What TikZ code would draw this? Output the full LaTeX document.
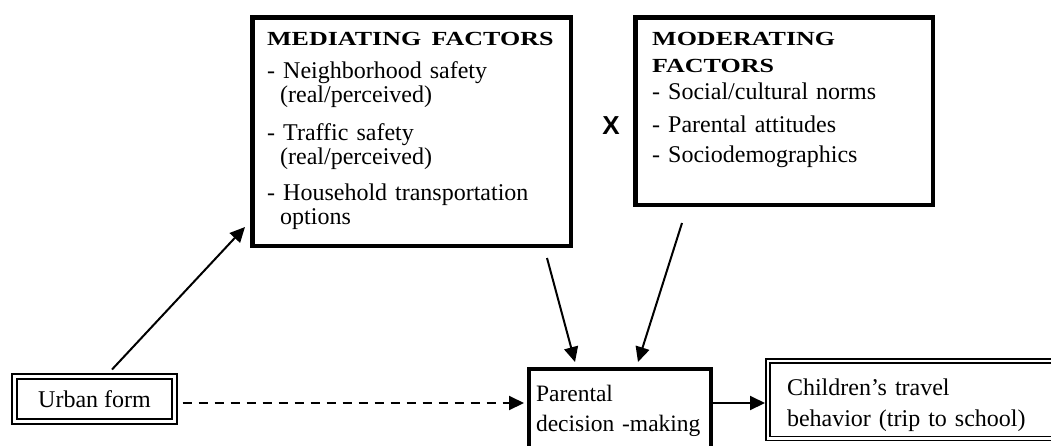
\documentclass[tikz,border=0pt]{standalone}
\usepackage{fontspec}
\setmainfont{Liberation Serif}
\newfontfamily\crossfont{Liberation Sans}
\usepackage{graphicx}
\usepackage{tikz}
\usetikzlibrary{arrows.meta,positioning,calc}
\newcommand{\hdr}[1]{\scalebox{1.3}[1]{\fontsize{20}{23}\selectfont\bfseries #1}}

\begin{document}
\begin{tikzpicture}[
    x=1pt, y=-1pt,
    factorbox/.style={draw, line width=4.5pt, inner sep=0pt},
    factortext/.style={align=left, inner sep=0pt, font=\fontsize{24}{24}\selectfont},
    decbox/.style={draw, line width=4pt, align=left, font=\fontsize{23.5}{24}\selectfont},
    dblbox/.style={draw, double, line width=#1, font=\fontsize{24}{24}\selectfont},
    link/.style={-{Triangle[length=15pt,width=14pt]}, line width=2pt}
]
    \useasboundingbox (0,0) rectangle (1051,445);
    \clip (0,0) rectangle (1051,445);

    % Blocks
    \node[factorbox, minimum width=318.5pt, minimum height=228.5pt] (med) at (411.5,131.5) {};
    \node[factortext, text width=295pt, anchor=base west] (medtxt) at (267,45)
        {\hdr{MEDIATING FACTORS}\\[9pt]
         - Neighborhood safety\\
         \hspace*{13pt}(real/perceived)\\[14pt]
         - Traffic safety\\
         \hspace*{13pt}(real/perceived)\\[12pt]
         - Household transportation\\
         \hspace*{13pt}options};
    \node[font=\crossfont\bfseries\fontsize{26}{26}\selectfont] (cross) at (611,126) {X};
    \node[factorbox, minimum width=297.5pt, minimum height=187.5pt] (mod) at (784,111) {};
    \node[factortext, text width=270pt, anchor=base west] (modtxt) at (652,45)
        {\hdr{MODERATING}\\[3pt]
         \hdr{FACTORS}\\[3pt]
         - Social/cultural norms\\[9pt]
         - Parental attitudes\\[6pt]
         - Sociodemographics};
    \node[dblbox=2pt, double distance=3pt, minimum width=160pt, minimum height=45pt] (urb) at (94.5,399) {Urban form};
    \node[decbox, minimum width=182pt, minimum height=84pt, text width=168pt, inner xsep=7pt] (par) at (620,411)
        {Parental\\[6pt] decision -making};
    \node[dblbox=1.5pt, double distance=2.5pt, align=left, minimum width=322pt, minimum height=77.5pt,
          text width=283.5pt, inner xsep=19.25pt] (chi) at (928.75,399.5)
        {\rule{0pt}{29pt}Children’s travel\\[7pt] behavior (trip to school)};

    % Arrows
    \draw[link] ([xshift=17.5pt,yshift=6pt]urb.north) -- ([xshift=-5pt,yshift=21pt]med.south west);
    \draw[link] ([xshift=-26pt,yshift=-10pt]med.south east) -- ([xshift=48pt,yshift=5pt]par.north west);
    \draw[link] ([xshift=49pt,yshift=-16pt]mod.south west) -- ([xshift=111pt,yshift=5pt]par.north west);
    \draw[link, dash pattern=on 9pt off 7pt] ([xshift=7pt,yshift=-4pt]urb.east) -- ([xshift=-3pt,yshift=-4pt]urb.east -| par.west);
    \draw[link] ([yshift=8pt]par.east) -- ([xshift=-2pt,yshift=8pt]par.east -| chi.west);
\end{tikzpicture}
\end{document}
